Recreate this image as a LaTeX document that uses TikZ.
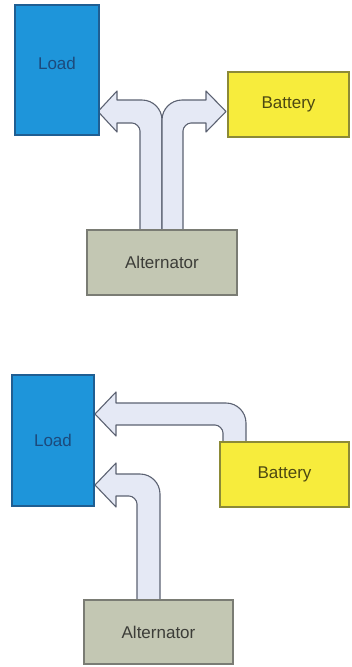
\documentclass[tikz,border=0pt]{standalone}
\usepackage{fontspec}
\newfontfamily\lab{Liberation Sans}
\definecolor{loadfill}{HTML}{1E95DA}
\definecolor{loaddraw}{HTML}{1F5E92}
\definecolor{loadtext}{HTML}{1C4A7C}
\definecolor{batfill}{HTML}{F7EC3C}
\definecolor{batdraw}{HTML}{8C8A36}
\definecolor{battext}{HTML}{4C4812}
\definecolor{altfill}{HTML}{C3C7B3}
\definecolor{altdraw}{HTML}{7A7C74}
\definecolor{alttext}{HTML}{3C3D38}
\definecolor{arrfill}{HTML}{E5E9F5}
\definecolor{arrdraw}{HTML}{5C6272}
\tikzset{
  labfont/.style={font=\lab\fontsize{17}{20}\selectfont},
  box/.style={draw, line width=1.3pt, inner sep=0pt, labfont},
  loadbox/.style={box, fill=loadfill, draw=loaddraw, text=loadtext},
  batbox/.style={box, fill=batfill, draw=batdraw, text=battext},
  altbox/.style={box, fill=altfill, draw=altdraw, text=alttext},
  blockarrow/.style={fill=arrfill, draw=arrdraw, line width=1.1pt, line join=round}
}
\begin{document}
\begin{tikzpicture}[x=1pt,y=-1pt]
\useasboundingbox (0,0) rectangle (351,667);
\fill[white] (0,0) rectangle (351,667);

% ---------- top diagram: arrows ----------
\draw[blockarrow] (140,230) -- (140,131) .. controls (140,127) and (136,123) .. (132,123)
  -- (117,123) -- (117,132) -- (98,111.5) -- (117,91) -- (117,100) -- (142,100)
  .. controls (153,100) and (162,109) .. (162,120) -- (162,230) -- cycle;
\draw[blockarrow] (162,230) -- (162,120) .. controls (162,109) and (171,100) .. (182,100)
  -- (206,100) -- (206,91) -- (226,111.5) -- (206,132) -- (206,123) -- (191,123)
  .. controls (187,123) and (183,127) .. (183,131) -- (183,230) -- cycle;

% ---------- top diagram: boxes ----------
\node[loadbox, minimum width=84pt, minimum height=130pt] (load1) at (57,70) {};
\node[labfont, text=loadtext] (load1t) at (57,63) {Load};
\node[batbox, minimum width=121pt, minimum height=65pt] (bat1) at (288.5,104.5) {Battery};
\node[altbox, minimum width=150pt, minimum height=65pt] (alt1) at (162,262.5) {Alternator};

% ---------- bottom diagram: arrows ----------
\draw[blockarrow] (246,442) -- (246,423) .. controls (246,412) and (237,403) .. (226,403)
  -- (116,403) -- (116,392) -- (95,414) -- (116,436) -- (116,425) -- (215,425)
  .. controls (219,425) and (223,429) .. (223,433) -- (223,442) -- cycle;
\draw[blockarrow] (160,600) -- (160,494) .. controls (160,483) and (151,474) .. (140,474)
  -- (116,474) -- (116,463) -- (95,485) -- (116,507) -- (116,496) -- (129,496)
  .. controls (133,496) and (137,500) .. (137,504) -- (137,600) -- cycle;

% ---------- bottom diagram: boxes ----------
\node[loadbox, minimum width=82pt, minimum height=131pt] (load2) at (53,440.5) {Load};
\node[batbox, minimum width=129pt, minimum height=65pt] (bat2) at (284.5,474.5) {Battery};
\node[altbox, minimum width=149pt, minimum height=64pt] (alt2) at (158.5,632) {Alternator};
\end{tikzpicture}
\end{document}
